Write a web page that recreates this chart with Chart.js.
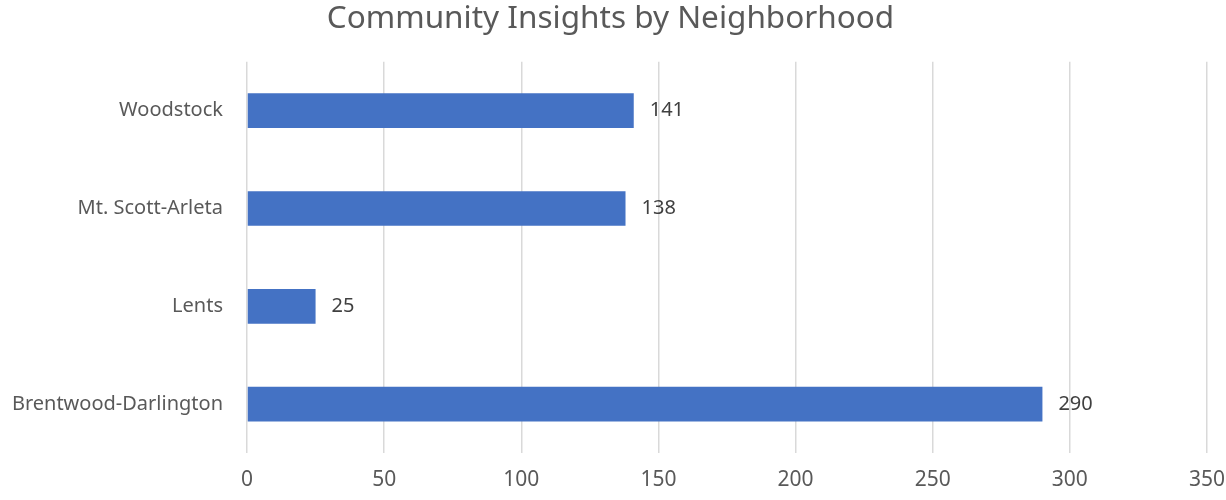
<!DOCTYPE html>
<html>
<head>
<meta charset="utf-8">
<script src="https://cdn.jsdelivr.net/npm/chart.js@4.4.1/dist/chart.umd.min.js"></script>
<style>
    html, body { margin: 0; padding: 0; background: #ffffff; }
    #wrap { width: 1226px; height: 500px; }
</style>
</head>
<body>
<div id="wrap"><canvas id="insightsChart" width="1226" height="500"></canvas></div>
<script>
// Datos del gráfico
const barrios = ['Woodstock', 'Mt. Scott-Arleta', 'Lents', 'Brentwood-Darlington'];
const respuestas = [141, 138, 25, 290];
const ejeX = [0, 50, 100, 150, 200, 250, 300, 350];

const fuente = '"Noto Sans", "Open Sans", sans-serif';

// Etiquetas de valor a la derecha de cada barra
const etiquetasValor = {
    id: 'etiquetasValor',
    afterDatasetsDraw(chart) {
        const ctx = chart.ctx;
        const meta = chart.getDatasetMeta(0);
        ctx.save();
        ctx.font = '20px ' + fuente;
        ctx.fillStyle = '#404040';
        ctx.textAlign = 'left';
        ctx.textBaseline = 'middle';
        meta.data.forEach((bar, i) => {
            ctx.fillText(respuestas[i], bar.x + 16, bar.y);
        });
        ctx.restore();
    }
};

const ctx = document.getElementById('insightsChart').getContext('2d');
new Chart(ctx, {
    type: 'bar',
    data: {
        labels: barrios,
        datasets: [{
            data: respuestas,
            backgroundColor: '#4472C4',
            barPercentage: 0.355,
            categoryPercentage: 1
        }]
    },
    options: {
        indexAxis: 'y',
        responsive: false,
        animation: false,
        layout: { padding: { left: 0, right: 5, top: 0, bottom: 0 } },
        plugins: {
            legend: { display: false },
            tooltip: { enabled: false },
            title: {
                display: true,
                text: 'Community Insights by Neighborhood',
                color: '#595959',
                font: { family: fuente, size: 31.5, weight: 'normal' },
                padding: { top: 0, bottom: 24 }
            }
        },
        scales: {
            x: {
                min: 0,
                max: 350,
                afterBuildTicks: scale => { scale.ticks = ejeX.map(v => ({ value: v })); },
                afterFit: scale => {
                    scale.height = 47;
                    scale.paddingRight = 19;
                    scale.paddingLeft = 0;
                },
                border: { display: false },
                grid: { color: '#d9d9d9', lineWidth: 1.5, drawTicks: false },
                ticks: { color: '#595959', padding: 14, font: { family: fuente, size: 21 } }
            },
            y: {
                afterFit: scale => { scale.width = 247; },
                border: { display: false },
                grid: { display: false, drawTicks: false },
                ticks: { color: '#595959', padding: 24, font: { family: fuente, size: 20 } }
            }
        }
    },
    plugins: [etiquetasValor]
});
</script>
</body>
</html>
